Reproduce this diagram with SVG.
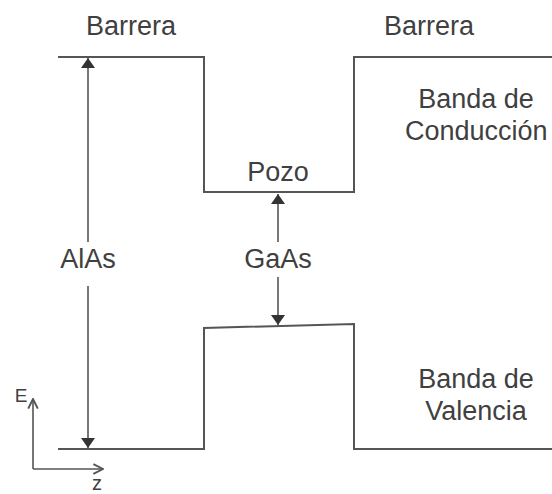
<svg xmlns="http://www.w3.org/2000/svg" width="552" height="494" viewBox="0 0 552 494">
<style>
.t{font-family:"Liberation Sans",Arial,sans-serif;font-size:27px;fill:#404040;text-anchor:middle}
.l{fill:none;stroke:#555;stroke-width:2}
.a{fill:none;stroke:#555;stroke-width:1.6}
</style>
<defs>
<marker id="ah" viewBox="0 0 10 14" refX="10" refY="7" markerWidth="11" markerHeight="14" markerUnits="userSpaceOnUse" orient="auto-start-reverse">
<path d="M0,0 L10,7 L0,14 z" fill="#333"/>
</marker>
<marker id="oh" viewBox="0 0 10 10" refX="9" refY="5" markerWidth="12" markerHeight="12" markerUnits="userSpaceOnUse" orient="auto">
<path d="M1,1 L9,5 L1,9" fill="none" stroke="#555" stroke-width="1.6"/>
</marker>
</defs>
<g id="bands">
<polyline class="l" points="58,57 204,57 204,192 354,192 354,57 552,57"/>
<polyline class="l" points="58,449 204,449 204,328 354,324 354,449 552,449"/>
</g>
<g id="connectors">
<line class="a" x1="88" y1="242" x2="88" y2="58" marker-end="url(#ah)"/>
<line class="a" x1="88" y1="286" x2="88" y2="448" marker-end="url(#ah)"/>
<line class="a" x1="278" y1="242" x2="278" y2="194" marker-end="url(#ah)"/>
<line class="a" x1="278" y1="277" x2="278" y2="325" marker-end="url(#ah)"/>
<line class="a" x1="33" y1="469" x2="33" y2="399" marker-end="url(#oh)"/>
<line class="a" x1="33" y1="469" x2="103" y2="469" marker-end="url(#oh)"/>
</g>
<g id="labels">
<text class="t" x="131" y="35">Barrera</text>
<text class="t" x="429" y="35">Barrera</text>
<text class="t" x="476" y="108">Banda de</text>
<text class="t" x="405" y="140" style="text-anchor:start">Conducción</text>
<text class="t" x="278" y="181">Pozo</text>
<text class="t" x="278" y="268">GaAs</text>
<text class="t" x="88" y="268">AlAs</text>
<text class="t" x="476" y="388">Banda de</text>
<text class="t" x="476" y="420">Valencia</text>
<text class="t" x="21" y="402" style="font-size:19px">E</text>
<text class="t" x="97" y="490" style="font-size:20px">z</text>
</g>
</svg>
